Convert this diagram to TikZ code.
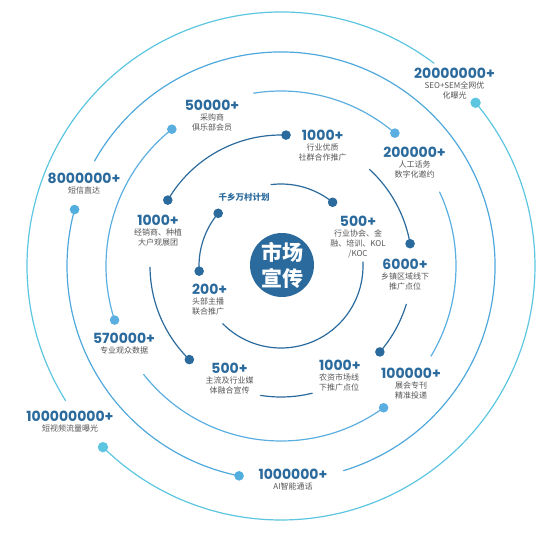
\documentclass[tikz,border=0pt]{standalone}
\usepackage{fontspec}
\newfontfamily\numfont{Poppins}
\newfontfamily\cjk{Noto Sans CJK SC}
\usetikzlibrary{positioning}
\definecolor{deepC}{HTML}{2B6A9C}
\definecolor{midC}{HTML}{5AAEE0}
\definecolor{skyC}{HTML}{4EA8DC}
\definecolor{cyanC}{HTML}{5CC6E0}
\definecolor{textC}{HTML}{555555}
\def\lwRing{1.2pt}
\def\dotR{4.8}
\def\cx{281}
\def\cy{270}
\def\rOne{82}
\def\rTwo{131}
\def\rThree{175}
\def\rFour{214}
\def\rFive{254}
\tikzset{
  numlbl/.style={deepC, inner sep=0pt, font=\numfont\bfseries\fontsize{14}{16}\selectfont},
  sublbl/.style={textC, inner sep=0pt, align=center, font=\cjk\fontsize{8}{10}\selectfont},
  ringOne/.style={deepC, line width=\lwRing},
  ringTwo/.style={deepC, line width=\lwRing},
  ringThree/.style={midC, line width=\lwRing},
  ringFour/.style={skyC, line width=\lwRing},
  ringFive/.style={cyanC, line width=\lwRing},
}

\begin{document}
\begin{tikzpicture}[x=1pt, y=1pt, line cap=round]
  \useasboundingbox (0,0) rectangle (554,536);
  \coordinate (c) at (\cx,\cy);

  % Outer ring
  \draw[ringFive] (c) ++(53:\rFive) arc[start angle=53, end angle=212, radius=\rFive];
  \draw[ringFive] (c) ++(225.5:\rFive) arc[start angle=225.5, end angle=400, radius=\rFive];
  \fill[cyanC] (c) ++(225.5:\rFive) circle (5.2);
  \fill[cyanC] (c) ++(40:\rFive) circle (5.2);

  % Ring 4
  \draw[ringFour] (c) ++(164.7:\rFour) arc[start angle=164.7, end angle=258.7, radius=\rFour];
  \draw[ringFour] (c) ++(287:\rFour) arc[start angle=287, end angle=510.6, radius=\rFour];
  \fill[skyC!80!cyanC] (c) ++(164.7:\rFour) circle (\dotR);
  \fill[skyC!80!cyanC] (c) ++(258.7:\rFour) circle (\dotR);

  % Ring 3
  \draw[ringThree] (c) ++(49.4:\rThree) arc[start angle=49.4, end angle=99, radius=\rThree];
  \draw[ringThree] (c) ++(128.6:\rThree) arc[start angle=128.6, end angle=198, radius=\rThree];
  \draw[ringThree] (c) ++(218.3:\rThree) arc[start angle=218.3, end angle=305.9, radius=\rThree];
  \draw[ringThree] (c) ++(329:\rThree) arc[start angle=329, end angle=385, radius=\rThree];
  \fill[midC] (c) ++(49.4:\rThree) circle (\dotR);
  \fill[midC] (c) ++(128.6:\rThree) circle (\dotR);
  \fill[midC] (c) ++(198:\rThree) circle (\dotR);
  \fill[midC] (c) ++(305.9:\rThree) circle (\dotR);

  % Ring 2
  \draw[ringTwo] (c) ++(87.8:\rTwo) arc[start angle=87.8, end angle=149.8, radius=\rTwo];
  \draw[ringTwo] (c) ++(180.5:\rTwo) arc[start angle=180.5, end angle=225.6, radius=\rTwo];
  \draw[ringTwo] (c) ++(261:\rTwo) arc[start angle=261, end angle=283.8, radius=\rTwo];
  \draw[ringTwo] (c) ++(319:\rTwo) arc[start angle=319, end angle=343, radius=\rTwo];
  \draw[ringTwo] (c) ++(9.8:\rTwo) arc[start angle=9.8, end angle=47.4, radius=\rTwo];
  \fill[deepC] (c) ++(87.8:\rTwo) circle (\dotR);
  \fill[deepC] (c) ++(149.8:\rTwo) circle (\dotR);
  \fill[deepC] (c) ++(225.6:\rTwo) circle (\dotR);
  \fill[deepC] (c) ++(319:\rTwo) circle (\dotR);
  \fill[deepC] (c) ++(9.8:\rTwo) circle (\dotR);

  % Ring 1
  \draw[ringOne] (c) ++(140:\rOne) arc[start angle=140, end angle=183.6, radius=\rOne];
  \draw[ringOne] (c) ++(224.7:\rOne) arc[start angle=224.7, end angle=362.8, radius=\rOne];
  \draw[ringOne] (c) ++(51:\rOne) arc[start angle=51, end angle=97, radius=\rOne];
  \fill[deepC] (c) ++(140:\rOne) circle (\dotR);
  \fill[deepC] (c) ++(183.6:\rOne) circle (\dotR);
  \fill[deepC] (c) ++(51:\rOne) circle (\dotR);

  % Centre disc
  \node[circle, fill=deepC, minimum size=64, inner sep=0pt, text=white, align=center,
        font=\cjk\bfseries\fontsize{21}{26}\selectfont] (disc) at (282,271) {市场\\宣传};

  % Labels
  \node[numlbl] (n20m) at (454.5,463) {20000000+};
  \node[sublbl, below=3.5pt of n20m] (s20m) {SEO+SEM全网优\\化曝光};
  \node[numlbl] (n200k) at (414.5,384) {200000+};
  \node[sublbl, below=3.5pt of n200k] (s200k) {人工话务\\数字化邀约};
  \node[numlbl] (n1kTop) at (322.7,401) {1000+};
  \node[sublbl, below=3.5pt of n1kTop] (s1kTop) {行业优质\\社群合作推广};
  \node[numlbl] (n50k) at (212,431) {50000+};
  \node[sublbl, below=3.5pt of n50k] (s50k) {采购商\\俱乐部会员};
  \node[numlbl] (n8m) at (84,358) {8000000+};
  \node[sublbl, below=3.5pt of n8m] (s8m) {短信直达};
  \node[numlbl] (n1kLeft) at (158,316) {1000+};
  \node[sublbl, below=3.5pt of n1kLeft] (s1kLeft) {经销商、种植\\大户观展团};
  \node[deepC, inner sep=0pt, font=\cjk\bfseries\fontsize{8.5}{10}\selectfont] (plan) at (244,339) {千乡万村计划};
  \node[numlbl] (n500r) at (358,315) {500+};
  \node[sublbl, below=3.5pt of n500r] (s500r) {行业协会、金\\融、培训、KOL\\/KOC};
  \node[numlbl] (n6k) at (405,272) {6000+};
  \node[sublbl, below=3.5pt of n6k] (s6k) {乡镇区域线下\\推广点位};
  \node[numlbl, anchor=west] (n200) at (192,247) {200+};
  \node[sublbl, align=left, below right=3.5pt and 0pt of n200.south west] (s200) {头部主播\\联合推广};
  \node[numlbl] (n570k) at (124,198) {570000+};
  \node[sublbl, below=3.5pt of n570k] (s570k) {专业观众数据};
  \node[numlbl] (n500b) at (229.5,168) {500+};
  \node[sublbl, below=3.5pt of n500b] (s500b) {主流及行业媒\\体融合宣传};
  \node[numlbl, anchor=west] (n1kBot) at (319,171) {1000+};
  \node[sublbl, align=left, below right=3.5pt and 0pt of n1kBot.south west] (s1kBot) {农资市场线\\下推广点位};
  \node[numlbl] (n100k) at (411,163) {100000+};
  \node[sublbl, below=3.5pt of n100k] (s100k) {展会专刊\\精准投递};
  \node[numlbl] (n100m) at (70,120) {100000000+};
  \node[sublbl, below=3.5pt of n100m] (s100m) {短视频流量曝光};
  \node[numlbl] (n1m) at (293,62) {1000000+};
  \node[sublbl, below=3.5pt of n1m] (s1m) {AI智能通话};
\end{tikzpicture}
\end{document}
